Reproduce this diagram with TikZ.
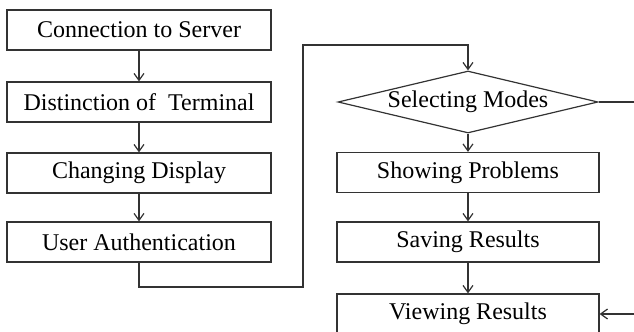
\documentclass[tikz,border=0pt]{standalone}
\usepackage{fontspec}
\setmainfont{Liberation Serif}
\usetikzlibrary{arrows.meta,shapes.geometric}

\begin{document}
\begin{tikzpicture}[x=0.5pt, y=-0.5pt, color=black!80, line width=0.6pt, font=\fontsize{12}{14}\selectfont,
  box/.style={draw, text=black, minimum width=132pt, minimum height=20pt, inner sep=0pt},
  modebox/.style={diamond, draw, text=black, aspect=4.2, inner sep=0pt, minimum width=130pt, minimum height=31pt},
  arr/.style={-{Straight Barb[length=3.5pt,width=5pt]}}]
\useasboundingbox (0,0) rectangle (634,332);
% left column
\node[box] (conn) at (139,30) {Connection to Server};
\node[box] (dist) at (139,102) {Distinction of\ \ Terminal};
\node[box] (disp) at (139,173) {Changing Display};
\node[box] (auth) at (139,242) {User Authentication};
% right column
\node[modebox] (modes) at (468,102) {Selecting Modes};
\node[box, minimum width=131pt] (prob) at (468,172.5) {Showing Problems};
\node[box, minimum width=131pt] (save) at (468,242) {Saving Results};
\node[box, minimum width=131pt] (view) at (468,314) {Viewing Results};
\coordinate (low) at (303,287);
\coordinate (high) at (303,45);
\coordinate (out) at (634,102);
\coordinate (back) at (634,314);
% connectors
\draw[arr] (conn) -- (dist);
\draw[arr] (dist) -- (disp);
\draw[arr] (disp) -- (auth);
\draw[arr] (auth.south) |- (low) -- (high) -| (modes.north);
\draw[arr] (modes) -- (prob);
\draw[arr] (prob) -- (save);
\draw[arr] (save) -- (view);
\draw (modes.east) -- (out);
\draw[arr] (back) -- (view.east);
\end{tikzpicture}
\end{document}
